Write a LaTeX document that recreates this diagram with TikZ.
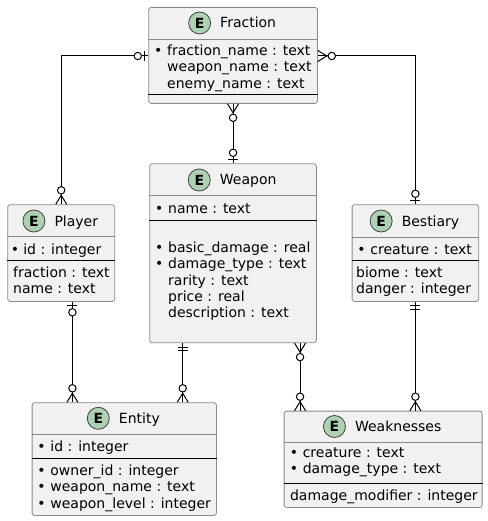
\documentclass[tikz,border=0pt]{standalone}
\usepackage{fontspec}
\setmainfont{DejaVu Sans}
\usetikzlibrary{positioning}
\definecolor{boxfill}{HTML}{F1F1F1}
\definecolor{boxline}{HTML}{8A8A8A}
\definecolor{efill}{HTML}{ADD1B2}
\newcommand{\pk}[1][13pt]{\makebox[#1][l]{\textbullet}}
\newcommand{\npk}{\hspace*{13pt}}
\begin{document}
\begin{tikzpicture}[x=1pt, y=-1pt, font=\fontsize{14}{16.3}\selectfont]
% entity boxes of the game schema
\tikzstyle{entbox} = [rectangle, rounded corners=2.5pt, draw=boxline, line width=0.8pt, fill=boxfill, anchor=north west, inner sep=0pt]
\tikzstyle{ebadge} = [circle, draw=black!75, line width=0.8pt, fill=efill, minimum size=22pt, inner sep=0pt, font=\fontsize{14}{16}\selectfont\bfseries]
\tikzstyle{etitle} = [anchor=base, inner sep=0pt, text height=10pt, text depth=0pt]
\tikzstyle{fields} = [anchor=north west, inner sep=0pt, align=left, execute at begin node=\strut]
\tikzstyle{headline} = [draw=boxline, line width=0.8pt]
\tikzstyle{sepline} = [draw=black, line width=1pt]
\tikzstyle{rel} = [draw=black, line width=1pt]
\tikzset{
  zmany/.pic={\draw[rel] (0,-5.5) -- (9,0) -- (0,5.5); \draw[rel, fill=white] (14,0) circle (3.7);},
  zone/.pic={\draw[rel] (4,-5) -- (4,5); \draw[rel, fill=white] (10.5,0) circle (3.7);},
  onlyone/.pic={\draw[rel] (4,-5) -- (4,5) (7.5,-5) -- (7.5,5);}
}
\useasboundingbox (0,0) rectangle (487,521);

\node (frac)[entbox, minimum width=168.7pt, minimum height=96pt] at (148.3,7) {};
\draw [headline] (frac.west |- 0,39) -- (frac.east |- 0,39);
\draw [sepline] (frac.west |- 0,95) -- (frac.east |- 0,95);
\node (fracT)[etitle] at (248.15,28) {Fraction};
\node (fracE)[ebadge, left=9pt of fracT] {E};
\node (fracK)[fields] at (154,44.6) {\pk fraction\_name : text\\ \npk weapon\_name : text\\ \npk enemy\_name : text};

\node (weap)[entbox, minimum width=166.7pt, minimum height=179pt] at (149.3,163.3) {};
\draw [headline] (weap.west |- 0,195) -- (weap.east |- 0,195);
\draw [sepline] (weap.west |- 0,220.3) -- (weap.east |- 0,220.3);
\node (weapT)[etitle] at (248.15,185) {Weapon};
\node (weapE)[ebadge, left=9pt of weapT] {E};
\node (weapK)[fields] at (155,201.6) {\pk name : text};
\node (weapF)[fields] at (155,241.6) {\pk basic\_damage : real\\ \pk damage\_type : text\\ \npk rarity : text\\ \npk price : real\\ \npk description : text};

\node (player)[entbox, minimum width=107pt, minimum height=96.7pt] at (7.3,204.3) {};
\draw [headline] (player.west |- 0,236.7) -- (player.east |- 0,236.7);
\draw [sepline] (player.west |- 0,260) -- (player.east |- 0,260);
\node (playerT)[etitle] at (76.3,226) {Player};
\node (playerE)[ebadge, left=9pt of playerT] {E};
\node (playerK)[fields] at (10.6,242.6) {\pk[8.1pt] id : integer};
\node (playerF)[fields] at (13,266.6) {fraction : text\\ name : text};

\node (best)[entbox, minimum width=126.6pt, minimum height=96.7pt] at (351.7,204.3) {};
\draw [headline] (best.west |- 0,237) -- (best.east |- 0,237);
\draw [sepline] (best.west |- 0,260) -- (best.east |- 0,260);
\node (bestT)[etitle] at (430.5,226) {Bestiary};
\node (bestE)[ebadge, left=9pt of bestT] {E};
\node (bestK)[fields] at (357.2,242.6) {\pk creature : text};
\node (bestF)[fields] at (356,266.6) {biome : text\\ danger : integer};

\node (entity)[entbox, minimum width=184.3pt, minimum height=112.7pt] at (31.7,402.3) {};
\draw [headline] (entity.west |- 0,434.3) -- (entity.east |- 0,434.3);
\draw [sepline] (entity.west |- 0,458.3) -- (entity.east |- 0,458.3);
\node (entityT)[etitle] at (139.35,423.3) {Entity};
\node (entityE)[ebadge, left=9pt of entityT] {E};
\node (entityK)[fields] at (37.2,439.6) {\pk id : integer};
\node (entityF)[fields] at (37.2,464.6) {\pk owner\_id : integer\\ \pk weapon\_name : text\\ \pk weapon\_level : integer};

\node (weak)[entbox, minimum width=198pt, minimum height=96.3pt] at (283.7,410.7) {};
\draw [headline] (weak.west |- 0,442.3) -- (weak.east |- 0,442.3);
\draw [sepline] (weak.west |- 0,483.3) -- (weak.east |- 0,483.3);
\node (weakT)[etitle] at (398.2,431.5) {Weaknesses};
\node (weakE)[ebadge, left=9pt of weakT] {E};
\node (weakK)[fields] at (289.6,447.6) {\pk creature : text\\ \pk damage\_type : text};
\node (weakF)[fields] at (289.9,488.6) {damage\_modifier : integer};

\draw [rel] ([yshift=-49pt]frac.north west) -| (player.north);
\draw [rel] ([yshift=-49pt]frac.north east) -| (best.north);
\draw [rel] (frac.south) -- (weap.north);
\draw [rel] ([xshift=11.2pt]player.south) -- ([xshift=11.2pt]player.south |- entity.north);
\draw [rel] ([xshift=-50.35pt]weap.south) -- ([xshift=-50.35pt]weap.south |- entity.north);
\draw [rel] ([xshift=67pt]weap.south) -- ([xshift=67pt]weap.south |- weak.north);
\draw [rel] (best.south) -- (best.south |- weak.north);

\pic[rotate=180] at ([yshift=-49pt]frac.north west) {zone};
\pic[rotate=90] at (player.north) {zmany};
\pic at ([yshift=-49pt]frac.north east) {zmany};
\pic[rotate=90] at (best.north) {zone};
\pic[rotate=-90] at (frac.south) {zmany};
\pic[rotate=90] at (weap.north) {zone};
\pic[rotate=-90] at ([xshift=11.2pt]player.south) {zone};
\pic[rotate=90] at ([xshift=11.2pt]player.south |- entity.north) {zmany};
\pic[rotate=-90] at ([xshift=-50.35pt]weap.south) {onlyone};
\pic[rotate=90] at ([xshift=-50.35pt]weap.south |- entity.north) {zmany};
\pic[rotate=-90] at ([xshift=67pt]weap.south) {zmany};
\pic[rotate=90] at ([xshift=67pt]weap.south |- weak.north) {zmany};
\pic[rotate=-90] at (best.south) {onlyone};
\pic[rotate=90] at (best.south |- weak.north) {zmany};
\end{tikzpicture}
\end{document}
